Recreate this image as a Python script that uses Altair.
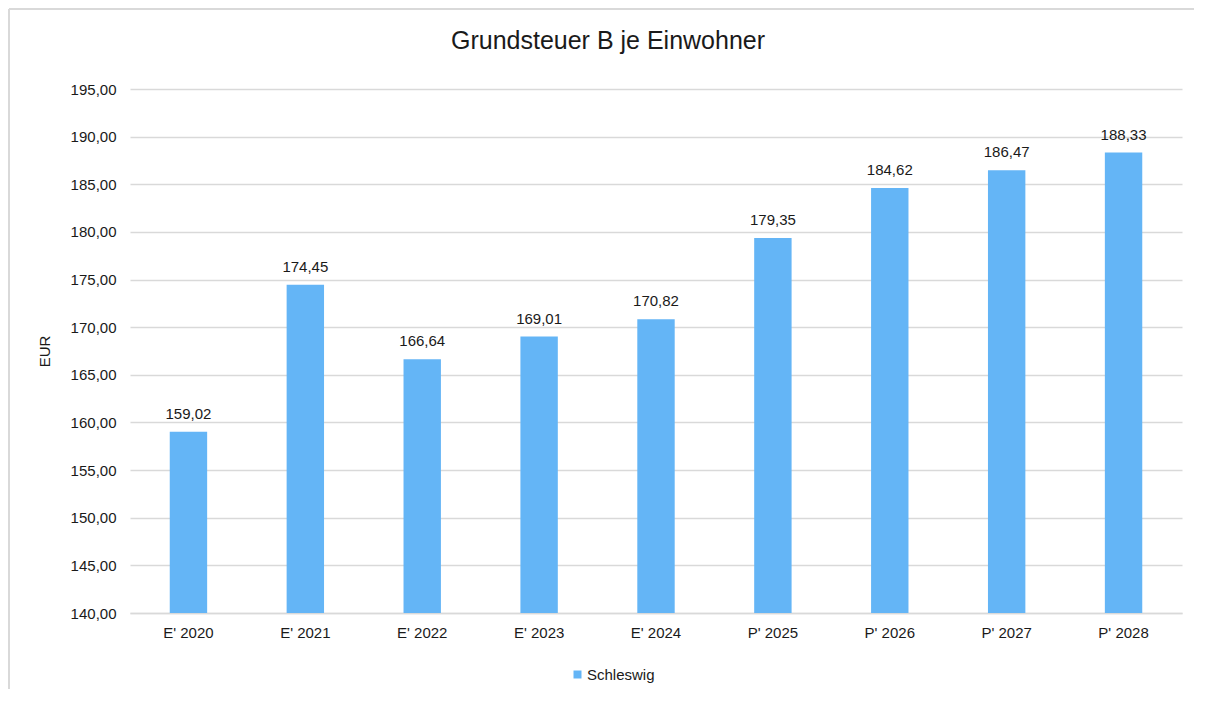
import altair as alt
import pandas as pd

categories = ["E' 2020", "E' 2021", "E' 2022", "E' 2023", "E' 2024", "P' 2025", "P' 2026", "P' 2027", "P' 2028"]
values = [159.02, 174.45, 166.64, 169.01, 170.82, 179.35, 184.62, 186.47, 188.33]
series = "Schleswig"

df = pd.DataFrame({"Jahr": categories, "Wert": values, "Reihe": [series] * len(categories)})

FONT = "Liberation Sans"
TEXT = "#1a1a1a"
GRID = "#d9d9d9"
BLUE = "#64B5F6"
FS = 15

W, H = 1052, 524

base = alt.Chart(df)

bars = base.mark_bar(color=BLUE, clip=True).encode(
    x=alt.X("Jahr:N", sort=categories, title=None,
            scale=alt.Scale(paddingInner=0.68, paddingOuter=0.34),
            axis=alt.Axis(labelAngle=0, labelFontSize=FS, labelColor=TEXT, labelFont=FONT,
                          ticks=False, domainColor=GRID, domainWidth=1.5, labelPadding=12)),
    y=alt.Y("Wert:Q", title="EUR",
            scale=alt.Scale(domain=[140, 195], zero=False, nice=False),
            axis=alt.Axis(values=list(range(140, 196, 5)), grid=True, gridColor=GRID, gridWidth=1.3,
                          domain=False, ticks=False, labelPadding=14, labelFontSize=FS,
                          labelColor=TEXT, labelFont=FONT,
                          labelExpr="replace(format(datum.value, '.2f'), '.', ',')",
                          titleFontSize=FS, titleFont=FONT, titleColor=TEXT, titleFontWeight="normal",
                          titlePadding=18)),
    fill=alt.Fill("Reihe:N", scale=alt.Scale(range=[BLUE]),
                  legend=alt.Legend(title=None, orient="none", legendX=440, legendY=578,
                                    symbolType="square", symbolSize=64, symbolStrokeWidth=0,
                                    labelFontSize=FS, labelFont=FONT, labelColor=TEXT,
                                    labelOffset=2)),
)

labels = base.mark_text(dy=-13, baseline="alphabetic", fontSize=FS, font=FONT, color=TEXT).encode(
    x=alt.X("Jahr:N", sort=categories),
    y=alt.Y("Wert:Q"),
    text=alt.Text("label:N"),
).transform_calculate(label="replace(format(datum.Wert, '.2f'), '.', ',')")

frame_src = alt.Chart(pd.DataFrame({"a": [0]}))
frame_left = frame_src.mark_rule(color=GRID, strokeWidth=2, clip=False).encode(
    x=alt.value(-121), y=alt.value(-80), y2=alt.value(H + 76)
)
frame_top = frame_src.mark_rule(color=GRID, strokeWidth=2, clip=False).encode(
    x=alt.value(-121), x2=alt.value(W + 12), y=alt.value(-80)
)

chart = alt.layer(frame_left, frame_top, bars, labels).properties(
    width=W, height=H,
    autosize=alt.AutoSizeParams(type="none"),
    padding={"left": 122, "top": 81, "right": 12, "bottom": 76},
    title=alt.TitleParams("Grundsteuer B je Einwohner", fontSize=25, font=FONT, color=TEXT,
                          fontWeight="normal", anchor="middle", dx=-48, offset=-46),
).configure_view(stroke=None)

chart.save("out.html", embed_options={"renderer": "svg", "actions": False})
